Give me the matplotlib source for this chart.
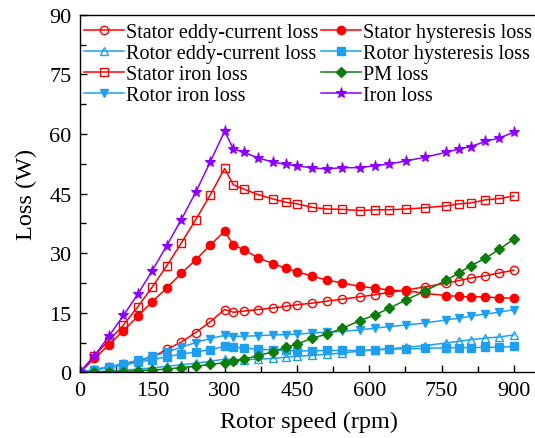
import numpy as np
import matplotlib
matplotlib.use('Agg')
from matplotlib import pyplot as plt
from matplotlib.ticker import MultipleLocator

plt.rcParams['font.family'] = ['Liberation Serif', 'DejaVu Serif']

# velocidad del rotor (rpm)
speed = [0, 30, 60, 90, 120, 150, 180, 210, 240, 270, 300, 318, 340, 370, 401,
         427, 450, 482, 512, 544, 581, 611, 641, 676, 715, 760, 786, 810, 841, 870, 900]

# perdidas (W)
stator_eddy = [0, 0.6, 1.3, 2.0, 2.9, 3.8, 5.8, 7.6, 10.0, 12.7, 15.8, 15.1, 15.4, 15.8, 16.2,
               16.6, 17.0, 17.4, 17.9, 18.4, 19.0, 19.5, 20.1, 20.7, 21.5, 22.4, 23.1, 23.7, 24.3, 25.0, 25.7]
rotor_eddy = [0, 0.1, 0.3, 0.5, 0.8, 1.1, 1.5, 1.9, 2.3, 2.8, 3.3, 3.2, 3.2, 3.3, 3.5,
              3.8, 4.0, 4.3, 4.5, 4.9, 5.3, 5.7, 5.9, 6.3, 6.7, 7.4, 7.8, 8.2, 8.6, 8.9, 9.4]
stator_iron = [0, 4.2, 8.0, 11.9, 16.5, 21.5, 26.8, 32.5, 38.4, 44.6, 51.3, 47.2, 46.1, 44.7, 43.6,
               42.8, 42.4, 41.5, 41.1, 41.0, 40.7, 40.9, 40.9, 41.1, 41.4, 41.9, 42.4, 42.6, 43.4, 43.7, 44.4]
rotor_iron = [0, 0.7, 1.4, 2.2, 3.0, 4.0, 5.1, 6.3, 7.5, 8.5, 9.3, 9.0, 9.1, 9.2, 9.4,
              9.5, 9.6, 9.9, 10.1, 10.3, 10.7, 11.1, 11.5, 11.9, 12.4, 13.2, 13.6, 14.1, 14.7, 15.1, 15.8]
stator_hyst = [0, 3.5, 6.9, 10.5, 14.1, 17.8, 21.2, 24.9, 28.3, 32.0, 35.5, 32.1, 30.8, 28.8, 27.3,
               26.2, 25.3, 24.2, 23.2, 22.5, 21.6, 21.2, 20.7, 20.5, 19.9, 19.3, 19.1, 19.0, 19.0, 18.7, 18.7]
rotor_hyst = [0, 0.6, 1.2, 1.8, 2.5, 3.2, 3.9, 4.6, 5.1, 5.7, 6.5, 6.3, 6.1, 5.8, 5.6,
              5.5, 5.4, 5.4, 5.5, 5.5, 5.5, 5.6, 5.8, 5.9, 6.0, 6.2, 6.2, 6.2, 6.3, 6.3, 6.5]
pm_loss = [0, 0.1, 0.2, 0.2, 0.4, 0.6, 0.8, 1.2, 1.5, 2.0, 2.4, 2.8, 3.3, 4.2, 5.2,
           6.3, 7.1, 8.6, 9.6, 11.1, 13.0, 14.4, 16.1, 18.2, 20.4, 23.2, 25.0, 26.8, 28.7, 31.0, 33.5]
iron_loss = [0, 4.2, 9.1, 14.3, 19.7, 25.6, 31.9, 38.4, 45.3, 52.9, 60.7, 56.2, 55.4, 53.9, 52.9,
             52.3, 52.0, 51.4, 51.2, 51.5, 51.5, 52.0, 52.4, 53.2, 54.1, 55.4, 56.2, 56.8, 58.1, 59.0, 60.4]

rojo = '#ff0000'
azul = '#1e9ff0'
verde = '#0a7d0a'
morado = '#8b00ff'

fig = plt.figure(figsize=(5.35, 4.39), dpi=100)
ax = fig.add_axes([80 / 535, 1 - 373.3 / 439, 458 / 535, (373.3 - 15.7) / 439])

estilo = dict(lw=1.1, ms=6, mew=1.0)
ax.plot(speed, stator_eddy, color=rojo, marker='o', mfc='none', label='Stator eddy-current loss', **estilo)
ax.plot(speed, rotor_eddy, color=azul, marker='^', mfc='none', label='Rotor eddy-current loss', **estilo)
ax.plot(speed, stator_iron, color=rojo, marker='s', mfc='none', label='Stator iron loss', **estilo)
ax.plot(speed, rotor_iron, color=azul, marker='v', label='Rotor iron loss', **estilo)
ax.plot(speed, stator_hyst, color=rojo, marker='o', label='Stator hysteresis loss', **estilo)
ax.plot(speed, rotor_hyst, color=azul, marker='s', label='Rotor hysteresis loss', **estilo)
ax.plot(speed, pm_loss, color=verde, marker='D', label='PM loss', lw=1.1, ms=5.5, mew=1.0)
ax.plot(speed, iron_loss, color=morado, marker='*', label='Iron loss', lw=1.1, ms=8, mew=0.8)

ax.set_xlim(0, 950)
ax.set_ylim(0, 90)
ax.set_xticks([0, 150, 300, 450, 600, 750, 900])
ax.xaxis.set_minor_locator(MultipleLocator(75))
ax.yaxis.set_major_locator(MultipleLocator(15))
ax.yaxis.set_minor_locator(MultipleLocator(7.5))
ax.tick_params(which='both', direction='in', top=False, right=False, labelsize=16, width=1.0)
ax.tick_params(which='major', length=5, pad=6)
ax.tick_params(which='minor', length=4)
ax.spines['right'].set_visible(False)
for s in ['left', 'bottom', 'top']:
    ax.spines[s].set_linewidth(1.0)

ax.set_xlabel('Rotor speed (rpm)', fontsize=17.5, labelpad=8)
ax.set_ylabel('Loss (W)', fontsize=17.5, labelpad=9)

ax.legend(loc='upper left', bbox_to_anchor=(84 / 535, 1 - 24 / 439), bbox_transform=fig.transFigure,
          ncol=2, frameon=False, fontsize=14.5, borderpad=0, borderaxespad=0,
          handlelength=2.0, handletextpad=0.1, columnspacing=0.1, labelspacing=0.1)

fig.savefig('out.png', dpi=100)
